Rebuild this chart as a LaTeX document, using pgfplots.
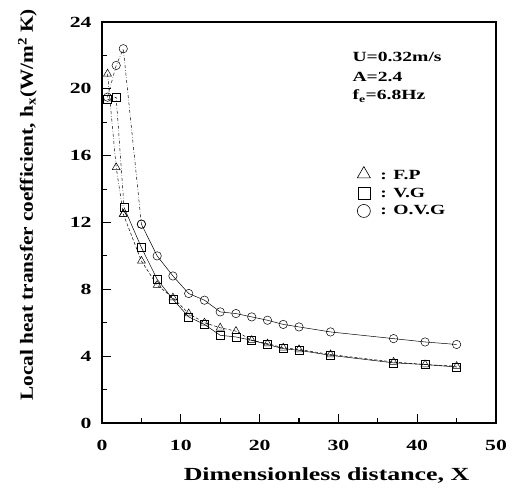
\documentclass[border=0pt]{standalone}
\usepackage{fontspec}
\setmainfont{Liberation Serif}[FakeStretch=1.4]
\newfontfamily\ylfont{Liberation Serif}[FakeStretch=1.15]
\usepackage{pgfplots}
\pgfplotsset{compat=1.18}
\begin{document}
\begin{tikzpicture}[x=1pt,y=1pt]
\useasboundingbox (0,0) rectangle (514,493);
\begin{axis}[
  at={(102pt,70pt)}, anchor=south west,
  scale only axis, width=394pt, height=401pt,
  xmin=0, xmax=50, ymin=0, ymax=24,
  xtick={0,10,...,50}, ytick={0,4,...,24},
  minor x tick num=1, minor y tick num=1,
  tick pos=left, tick align=inside,
  major tick length=9pt, minor tick length=5pt,
  axis line style={line width=1.3pt},
  every tick/.style={line width=1.1pt, black},
  /pgf/number format/assume math mode=true,
  ticklabel style={font=\fontsize{15.5}{15.5}\selectfont\bfseries},
  xticklabel style={yshift=-14pt},
  yticklabel style={xshift=-7pt},
  xlabel={Dimensionless distance, X},
  ylabel={\ylfont Local heat transfer coefficient, h\textsubscript{x}(W/m\textsuperscript{2} K)},
  label style={font=\fontsize{18.5}{18.5}\selectfont\bfseries},
  xlabel style={at={(ticklabel cs:0.57)}, anchor=north, yshift=-10pt},
  ylabel style={at={(ticklabel cs:0.544)}, anchor=south, yshift=26pt},
  legend style={draw=none, fill=none, at={(axis description cs:0.64,0.645)}, anchor=north west,
    font=\fontsize{14}{14}\selectfont\bfseries, row sep=3pt},
  legend cell align=left,
]
% F.P
\addplot[black, line width=0.5pt, dash dot, mark=triangle, mark size=4.6pt, mark options={solid}, forget plot]
 coordinates {(0.7,20.9)(1.8,15.3)(2.7,12.5)};
\addplot[black, line width=0.5pt, densely dashed, mark=triangle, mark size=4.6pt, mark options={solid},
  legend image code/.code={\draw[mark=triangle, mark size=7.5pt, mark options={solid, line width=0.6pt}] plot coordinates {(0.3cm,0.05cm)};}]
 coordinates {(2.7,12.5)(5,9.7)(7,8.25)(9,7.5)(11,6.55)(13,6.0)(15,5.7)(17,5.5)(19,4.95)(21,4.75)(23,4.5)(25,4.4)(29,4.1)(37,3.65)(41,3.5)(45,3.4)};
\addlegendentry{\hspace{8pt}: F.P}
% V.G
\addplot[black, line width=0.5pt, dash dot, mark=square, mark size=4pt, mark options={solid}, forget plot]
 coordinates {(0.7,19.35)(1.8,19.5)(2.8,12.9)};
\addplot[black, line width=0.5pt, mark=square, mark size=4pt, mark options={solid},
  legend image code/.code={\draw[mark=square, mark size=6pt, mark options={solid, line width=0.6pt}] plot coordinates {(0.3cm,0cm)};}]
 coordinates {(2.8,12.9)(5,10.5)(7,8.6)(9,7.4)(11,6.35)(13,5.9)(15,5.25)(17,5.15)(19,4.95)(21,4.7)(23,4.45)(25,4.35)(29,4.05)(37,3.6)(41,3.5)(45,3.35)};
\addlegendentry{\hspace{8pt}: V.G}
% O.V.G
\addplot[black, line width=0.5pt, dash dot, mark=o, mark size=4.2pt, mark options={solid}, forget plot]
 coordinates {(0.7,19.5)(1.8,21.4)(2.7,22.4)(5,11.9)};
\addplot[black, line width=0.5pt, mark=o, mark size=4.2pt, mark options={solid},
  legend image code/.code={\draw[mark=o, mark size=6.5pt, mark options={solid, line width=0.6pt}] plot coordinates {(0.3cm,0cm)};}]
 coordinates {(5,11.9)(7,10.0)(9,8.8)(11,7.75)(13,7.35)(15,6.65)(17,6.55)(19,6.35)(21,6.15)(23,5.9)(25,5.75)(29,5.45)(37,5.05)(41,4.85)(45,4.7)};
\addlegendentry{\hspace{8pt}: O.V.G}
\node[anchor=west, font=\fontsize{14}{14}\selectfont\bfseries] at (axis description cs:0.627,0.913) {U=0.32m/s};
\node[anchor=west, font=\fontsize{14}{14}\selectfont\bfseries] at (axis description cs:0.627,0.863) {A=2.4};
\node[anchor=west, font=\fontsize{14}{14}\selectfont\bfseries] at (axis description cs:0.627,0.815) {f\textsubscript{e}=6.8Hz};
\end{axis}
\end{tikzpicture}
\end{document}
